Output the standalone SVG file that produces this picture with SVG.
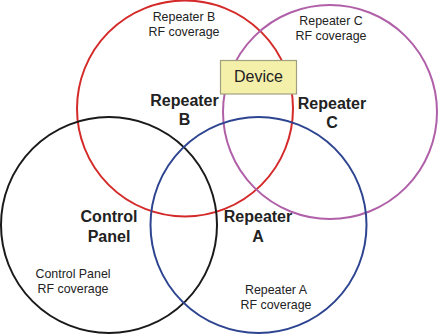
<svg xmlns="http://www.w3.org/2000/svg" width="441" height="335" viewBox="0 0 441 335">
<style>
.c{fill:none;stroke-width:2}
.s{font-family:"Liberation Sans",Arial,sans-serif;font-size:12.4px;fill:#222;text-anchor:middle}
.b{font-family:"Liberation Sans",Arial,sans-serif;font-size:16px;font-weight:bold;fill:#222;text-anchor:middle}
</style>
<rect width="441" height="335" fill="#fff"/>
<g id="repeater-b"><circle class="c" cx="185" cy="108.5" r="108" stroke="#d42a2a"/></g>
<g id="repeater-c"><circle class="c" cx="330" cy="112" r="107" stroke="#b060a8"/></g>
<g id="control-panel"><circle class="c" cx="109" cy="225" r="108" stroke="#1a1a1a"/></g>
<g id="repeater-a"><circle class="c" cx="258.5" cy="225" r="108" stroke="#2d4490"/></g>
<g id="labels">
<text class="s" x="184" y="21">Repeater B</text>
<text class="s" x="184" y="36">RF coverage</text>
<text class="s" x="331" y="25">Repeater C</text>
<text class="s" x="331" y="40">RF coverage</text>
<text class="b" x="184.5" y="105.5">Repeater</text>
<text class="b" x="184.5" y="124.5">B</text>
<text class="b" x="332" y="108.5">Repeater</text>
<text class="b" x="332" y="128">C</text>
<text class="b" x="109" y="222">Control</text>
<text class="b" x="109" y="242">Panel</text>
<text class="b" x="258" y="222">Repeater</text>
<text class="b" x="258" y="242">A</text>
<text class="s" x="73" y="278">Control Panel</text>
<text class="s" x="73" y="293">RF coverage</text>
<text class="s" x="276" y="294">Repeater A</text>
<text class="s" x="276" y="309">RF coverage</text>
</g>
<g id="device">
<rect x="220.5" y="60.5" width="76" height="33.5" fill="#f4f0aa" stroke="#a0a080" stroke-width="1.2"/>
<text x="258.5" y="82" font-family="Liberation Sans, Arial, sans-serif" font-size="16" fill="#222" text-anchor="middle">Device</text>
</g>
</svg>
